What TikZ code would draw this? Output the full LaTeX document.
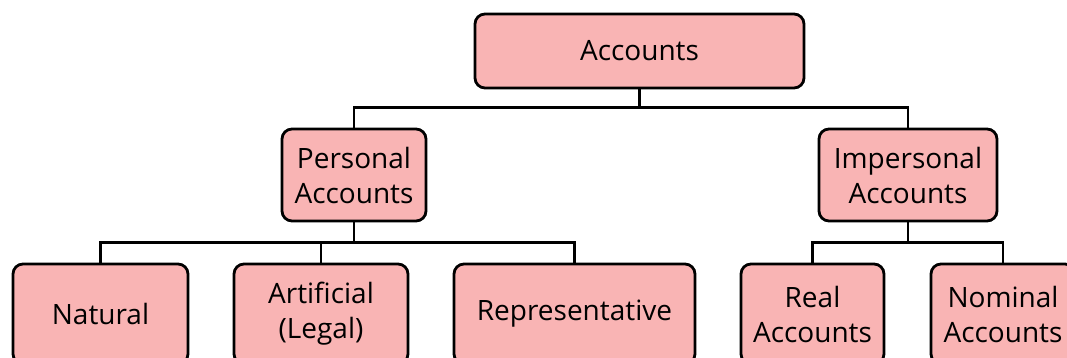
\documentclass[tikz,border=0pt]{standalone}
\usepackage{fontspec}
\setmainfont{Open Sans}
\definecolor{accpink}{RGB}{249,180,180}
\tikzset{
    acc/.style={draw=black, line width=2.8pt, fill=accpink, rounded corners=10pt,
        align=center, inner sep=0pt, font=\fontsize{28}{35}\selectfont},
    link/.style={line width=2.8pt}
}
\begin{document}
\begin{tikzpicture}[x=1pt, y=-1pt]
    \clip (0,0) rectangle (1067,358);
    % Top level
    \node[acc, minimum width=329, minimum height=74] (accounts) at (639.5,51) {Accounts};
    % Second level
    \node[acc, minimum width=144, minimum height=92] (personal) at (354,175) {Personal\\Accounts};
    \node[acc, minimum width=178, minimum height=92] (impersonal) at (908,175) {Impersonal\\Accounts};
    % Third level
    \node[acc, minimum width=175, minimum height=100] (natural) at (100.5,314) {Natural};
    \node[acc, minimum width=174, minimum height=100] (artificial) at (321,314) {Artificial\\(Legal)};
    \node[acc, minimum width=241, minimum height=100] (representative) at (574.5,314) {Representative};
    \node[acc, minimum width=143, minimum height=100] (real) at (812.5,314) {Real\\Accounts};
    \node[acc, minimum width=144, minimum height=100] (nominal) at (1003,314) {Nominal\\Accounts};
    % Links
    \draw[link] (accounts.south) -- ++(0,19);
    \draw[link] (personal.north) -- ++(0,-20) -| (impersonal.north);
    \draw[link] (personal.south) -- ++(0,21);
    \draw[link] (natural.north) -- ++(0,-20) -| (representative.north);
    \draw[link] (artificial.north) -- ++(0,-20);
    \draw[link] (impersonal.south) -- ++(0,21);
    \draw[link] (real.north) -- ++(0,-20) -| (nominal.north);
\end{tikzpicture}
\end{document}
